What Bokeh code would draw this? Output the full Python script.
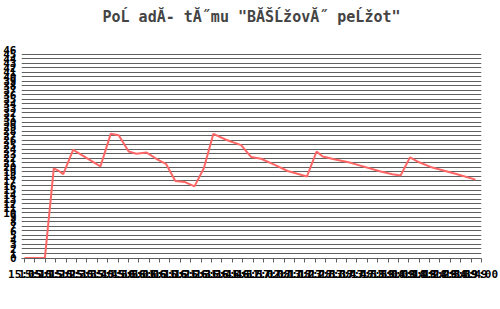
from bokeh.plotting import figure
from bokeh.models import Range1d, FixedTicker
from bokeh.embed import file_html
from bokeh.resources import INLINE

TITLE = 'PoĹ adĂ- tĂ˝mu "BĂŠĹžovĂ˝ peĹžot"'

# x positions in tick-index units, y = team position value
xs = [0, 1.95, 2.81, 3.24, 3.72, 4.68, 5.0, 7.30, 8.29, 9.06, 10.02, 10.76,
      11.72, 12.68, 13.64, 14.51, 15.40, 16.36, 17.26, 18.18, 19.40, 20.85,
      21.81, 22.77, 24.04, 25.33, 27.19, 28.12, 28.70, 29.81, 31.41, 34.29,
      35.42, 36.21, 37.11, 37.82, 39.09, 41.66, 43.42]
ys = [0, 0, 19.8, 19.3, 18.5, 23.9, 23.4, 20.2, 27.4, 27.1, 23.5, 23.0,
      23.3, 21.9, 20.7, 17.0, 16.8, 15.8, 19.8, 27.4, 26.1, 24.9,
      22.3, 21.9, 20.6, 19.2, 18.0, 23.5, 22.4, 21.8, 21.0, 19.1,
      18.5, 18.2, 22.2, 21.3, 20.1, 18.5, 17.3]

x_labels = ["15:05", "15:10", "15:15", "15:20", "15:25", "15:30", "15:35", "15:40",
            "15:45", "15:50", "15:56", "16:01", "16:06", "16:11", "16:16", "16:21",
            "16:26", "16:31", "16:36", "16:41", "16:46", "16:51", "16:57", "17:02",
            "17:08", "17:13", "17:18", "17:23", "17:28", "17:33", "17:38", "17:43",
            "17:48", "17:53", "17:59", "18:04", "18:09", "18:14", "18:19", "18:24",
            "18:29", "18:34", "18:39", "18:49", "19:00"]
y_ticks = list(range(0, 47))

p = figure(width=500, height=309, output_backend="svg", toolbar_location=None,
           x_range=Range1d(-0.3, 44), y_range=Range1d(-0.1, 46),
           min_border_left=20, min_border_right=19, min_border_top=0,
           min_border_bottom=51, outline_line_color=None,
           background_fill_color="white", border_fill_color="white")

# a blank second line lifts the title towards the top edge
p.title.text = TITLE + "\n "
p.title.align = "center"
p.title.text_font = "DejaVu Sans Mono"
p.title.text_font_size = "15px"
p.title.text_font_style = "bold"
p.title.standoff = 11

p.xgrid.visible = False
p.ygrid.ticker = FixedTicker(ticks=y_ticks)
p.ygrid.grid_line_color = "#606060"
p.ygrid.grid_line_width = 1

p.yaxis.ticker = FixedTicker(ticks=y_ticks)
p.yaxis.axis_line_color = None
p.yaxis.major_tick_line_color = None
p.yaxis.major_tick_out = 0
p.yaxis.major_tick_in = 0
p.yaxis.minor_tick_line_color = None
p.yaxis.minor_tick_out = 0
p.yaxis.major_label_text_font = "DejaVu Sans Mono"
p.yaxis.major_label_text_font_size = "11px"
p.yaxis.major_label_text_font_style = "bold"
p.yaxis.major_label_text_color = "black"
p.yaxis.major_label_standoff = 5

xt = list(range(len(x_labels)))
p.xaxis.ticker = FixedTicker(ticks=xt)
p.xaxis.major_label_overrides = {i: s for i, s in zip(xt, x_labels)}
p.xaxis.axis_line_color = "#606060"
p.xaxis.major_tick_line_color = "#606060"
p.xaxis.major_tick_in = 0
p.xaxis.major_tick_out = 4
p.xaxis.minor_tick_line_color = None
p.xaxis.major_label_text_font = "DejaVu Sans Mono"
p.xaxis.major_label_text_font_size = "11px"
p.xaxis.major_label_text_font_style = "bold"
p.xaxis.major_label_text_color = "black"
p.xaxis.major_label_standoff = 5

p.line(xs, ys, line_color="#ff6666", line_width=2)

open("out.html", "w").write(file_html(p, INLINE))
